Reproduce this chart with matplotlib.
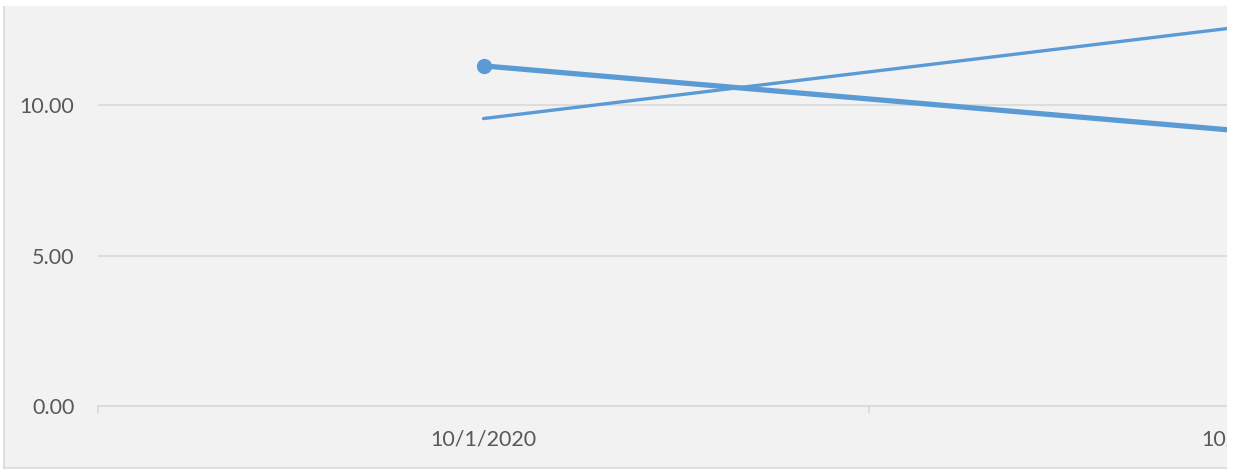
import matplotlib
matplotlib.use("Agg")
import matplotlib.pyplot as plt
from matplotlib.patches import Rectangle
from matplotlib.lines import Line2D

categories = ["10/1/2020", "10/2/2020"]
series_a = [11.30, 9.10]   # thick line with marker at start
series_b = [9.55, 12.65]   # thin line
y_ticks = [0, 5, 10]
y_tick_labels = ["0.00", "5.00", "10.00"]

W, H = 1236, 470
DPI = 100
fig = plt.figure(figsize=(W / DPI, H / DPI), dpi=DPI)
fig.patch.set_facecolor("white")

def fx(px):
    return px / W

def fy(py):
    return 1 - py / H

# chart area background (cropped on right)
fig.add_artist(Rectangle((fx(3), fy(468)), fx(1227) - fx(3), fy(6) - fy(468),
                         transform=fig.transFigure, facecolor="#F2F2F2",
                         edgecolor="none", zorder=-5))
# left and bottom border of chart area
fig.add_artist(Line2D([fx(3.5), fx(3.5)], [fy(468), fy(6)], transform=fig.transFigure,
                      color="#D9D9D9", lw=1.2, zorder=-4))
fig.add_artist(Line2D([fx(3.5), fx(1227)], [fy(467.5), fy(467.5)], transform=fig.transFigure,
                      color="#D9D9D9", lw=1.2, zorder=-4))

# plot area: x from 98 px to 1640 px (categories at 483, 1254), y 0 at 406, 30.1 px/unit
unit = 30.1
left_px, right_px = 98, 98 + 2 * 771
bottom_px = 406
top_px = bottom_px - 15 * unit
ax = fig.add_axes([fx(left_px), fy(bottom_px), fx(right_px) - fx(left_px), fy(top_px) - fy(bottom_px)])
ax.set_facecolor("none")
ax.set_xlim(-0.5, 1.5)
ax.set_ylim(0, 15)

for s in ["top", "right", "left"]:
    ax.spines[s].set_visible(False)
ax.spines["bottom"].set_color("#D9D9D9")
ax.spines["bottom"].set_linewidth(1.2)

ax.set_yticks(y_ticks)
ax.set_yticklabels(y_tick_labels)
ax.yaxis.grid(True, color="#D9D9D9", lw=1.2)
ax.set_axisbelow(True)
ax.tick_params(axis="y", length=0, pad=17, labelsize=15.5, labelcolor="#595959")

x = list(range(len(categories)))
ax.set_xticks(x)
ax.set_xticklabels(categories)
ax.set_xticks([-0.5, 0.5, 1.5], minor=True)
ax.tick_params(axis="x", which="major", length=0, pad=17, labelsize=15.5, labelcolor="#595959")
ax.tick_params(axis="x", which="minor", length=5, width=1.2, color="#D9D9D9")
for lab in ax.get_xticklabels() + ax.get_yticklabels():
    lab.set_fontfamily(["Lato", "DejaVu Sans"])

color = "#5B9BD5"
ax.plot(x, series_b, color=color, lw=2.4, solid_capstyle="round", clip_on=False)
ax.plot(x, series_a, color=color, lw=3.8, solid_capstyle="round", clip_on=False)
ax.plot([x[0]], [series_a[0]], "o", color=color, ms=10, clip_on=False)

# crop: white beyond chart area on right and top
fig.add_artist(Rectangle((fx(1227), 0), 1 - fx(1227), 1, transform=fig.transFigure,
                         facecolor="white", edgecolor="none", zorder=20))
fig.add_artist(Rectangle((0, fy(6)), 1, 1 - fy(6), transform=fig.transFigure,
                         facecolor="white", edgecolor="none", zorder=20))

fig.savefig("out.png", dpi=DPI)
